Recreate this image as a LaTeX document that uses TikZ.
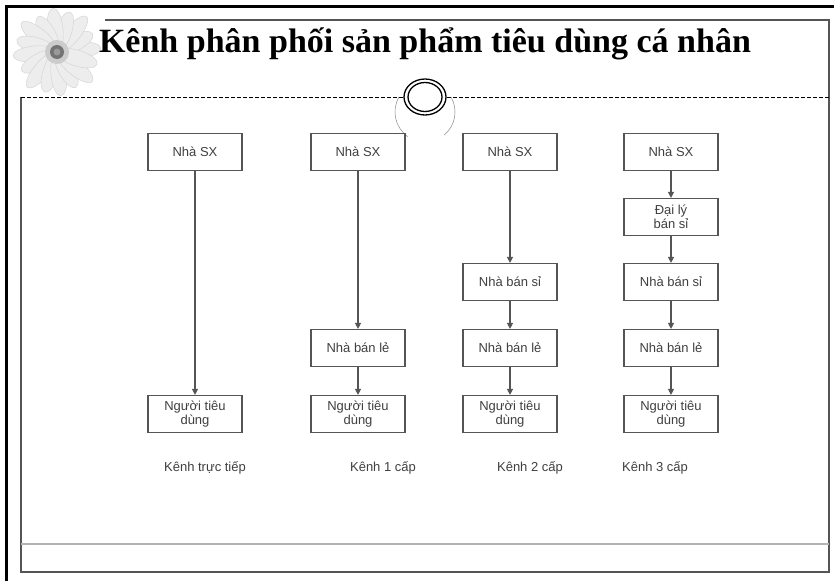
\documentclass[tikz,border=0pt]{standalone}
\usepackage{fontspec}
\setmainfont{Liberation Sans}
\newfontfamily\titlefont{Liberation Serif}
\usepackage{xcolor}
\definecolor{vizLine}{HTML}{555555}
\definecolor{vizText}{HTML}{404040}
\definecolor{vizPetal}{HTML}{EDEDED}
\usetikzlibrary{arrows.meta}

\begin{document}
\begin{tikzpicture}[x=1pt, y=-1pt,
  box/.style={draw=vizLine, line width=1.2pt, text=vizText, align=center,
    minimum width=94pt, minimum height=37pt, inner sep=1pt,
    font=\fontsize{13}{14}\selectfont},
  kenh/.style={text=vizText, font=\fontsize{13}{14}\selectfont},
  flow/.style={draw=vizLine, line width=1.1pt, -{Triangle[length=6pt, width=6pt]}}]
  \useasboundingbox (0,0) rectangle (834,581);
  \fill[white] (0,0) rectangle (834,581);

  % slide frame
  \draw[line width=3pt] (6,581) -- (6,6) -- (834,6);
  \draw[vizLine, line width=1.2pt] (105,20) -- (829,20) -- (829,572) -- (21,572) -- (21,97);
  \draw[black!30, line width=1.2pt] (21,544) -- (829,544);
  \draw[dashed, dash pattern=on 4pt off 2pt, line width=0.8pt] (21,97) -- (829,97);

  % flower
  \foreach \a/\l in {5/22,27/20,50/23,72/21,95/22,118/20,140/23,163/21,185/22,208/20,230/23,253/21,275/22,298/20,320/23,343/21} {
    \fill[vizPetal, draw=black!18, line width=0.4pt, rotate around={\a:(57,52)}] (57+\l,52) ellipse [x radius=\l pt, y radius=8pt];
  }
  \fill[black!20] (57,52) circle [radius=12pt];
  \fill[black!55] (57,52) circle [radius=7pt];
  \fill[black!40] (57,52) circle [radius=3.5pt];

  % title
  \node[anchor=base, font=\titlefont\bfseries\fontsize{34}{36}\selectfont] (title) at (425,52) {Kênh phân phối sản phẩm tiêu dùng cá nhân};

  % ring on the divider
  \draw[black!45, line width=0.5pt] (399,97) arc [start angle=150, end angle=235, radius=30pt];
  \draw[black!45, line width=0.5pt] (451,97) arc [start angle=30, end angle=-50, radius=30pt];
  \filldraw[fill=white, line width=1.3pt] (425,97) ellipse [x radius=21pt, y radius=18pt];
  \draw[line width=1.3pt] (425,97) ellipse [x radius=17pt, y radius=14.5pt];

  % kenh truc tiep
  \node[box] (sx1) at (195,152) {Nhà SX};
  \node[box] (ntd1) at (195,414) {Người tiêu\\dùng};
  \node[kenh] (k1) at (205,468) {Kênh trực tiếp};
  \draw[flow] (sx1) -- (ntd1);

  % kenh 1 cap
  \node[box] (sx2) at (358,152) {Nhà SX};
  \node[box] (bl2) at (358,348) {Nhà bán lẻ};
  \node[box] (ntd2) at (358,414) {Người tiêu\\dùng};
  \node[kenh] (k2) at (383,468) {Kênh 1 cấp};
  \draw[flow] (sx2) -- (bl2);
  \draw[flow] (bl2) -- (ntd2);

  % kenh 2 cap
  \node[box] (sx3) at (510,152) {Nhà SX};
  \node[box] (bs3) at (510,282) {Nhà bán sỉ};
  \node[box] (bl3) at (510,348) {Nhà bán lẻ};
  \node[box] (ntd3) at (510,414) {Người tiêu\\dùng};
  \node[kenh] (k3) at (530,468) {Kênh 2 cấp};
  \draw[flow] (sx3) -- (bs3);
  \draw[flow] (bs3) -- (bl3);
  \draw[flow] (bl3) -- (ntd3);

  % kenh 3 cap
  \node[box] (sx4) at (671,152) {Nhà SX};
  \node[box] (dl4) at (671,217) {Đại lý\\bán sỉ};
  \node[box] (bs4) at (671,282) {Nhà bán sỉ};
  \node[box] (bl4) at (671,348) {Nhà bán lẻ};
  \node[box] (ntd4) at (671,414) {Người tiêu\\dùng};
  \node[kenh] (k4) at (655,468) {Kênh 3 cấp};
  \draw[flow] (sx4) -- (dl4);
  \draw[flow] (dl4) -- (bs4);
  \draw[flow] (bs4) -- (bl4);
  \draw[flow] (bl4) -- (ntd4);
\end{tikzpicture}
\end{document}
